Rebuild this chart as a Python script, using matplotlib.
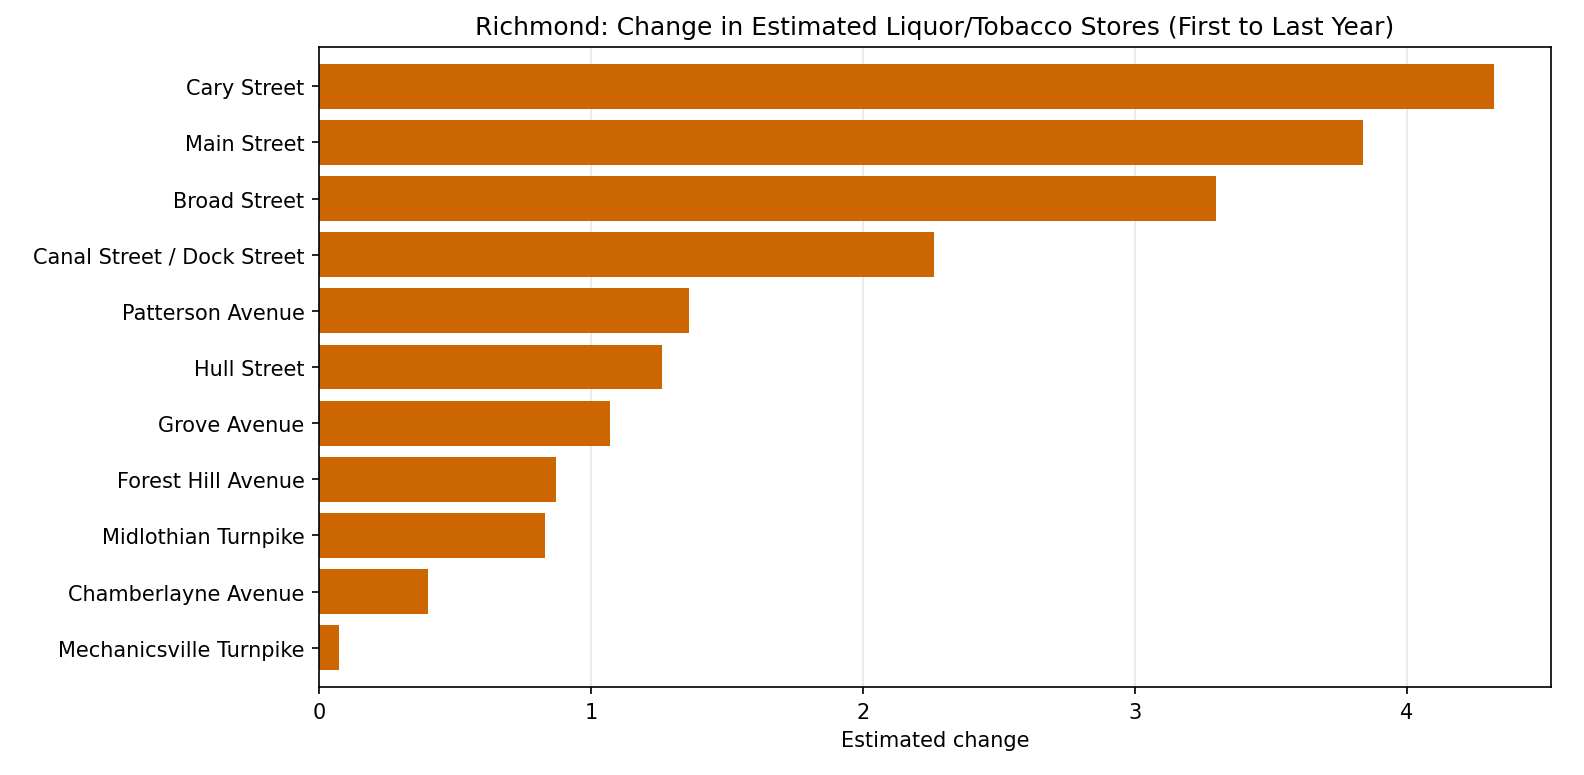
import matplotlib
matplotlib.use("Agg")
import matplotlib.pyplot as plt

streets = [
    "Cary Street", "Main Street", "Broad Street", "Canal Street / Dock Street",
    "Patterson Avenue", "Hull Street", "Grove Avenue", "Forest Hill Avenue",
    "Midlothian Turnpike", "Chamberlayne Avenue", "Mechanicsville Turnpike",
]
changes = [4.32, 3.84, 3.30, 2.26, 1.36, 1.26, 1.07, 0.87, 0.83, 0.40, 0.075]

fig = plt.figure(figsize=(10.56, 5.173), dpi=150)
ax = fig.add_axes([319 / 1584, 1 - 688 / 776, (1551 - 319) / 1584, (688 - 48) / 776])
ax.barh(streets[::-1], changes[::-1], color="#cc6600", zorder=2)
ax.set_xlim(0, 4.53)
ax.set_ylim(-0.7, 10.7)
ax.grid(axis="x", color="#e6e6e6", linewidth=0.8, zorder=0)
ax.set_xlabel("Estimated change")
ax.set_title("Richmond: Change in Estimated Liquor/Tobacco Stores (First to Last Year)", fontsize=12)
fig.savefig("out.png", dpi=150)
